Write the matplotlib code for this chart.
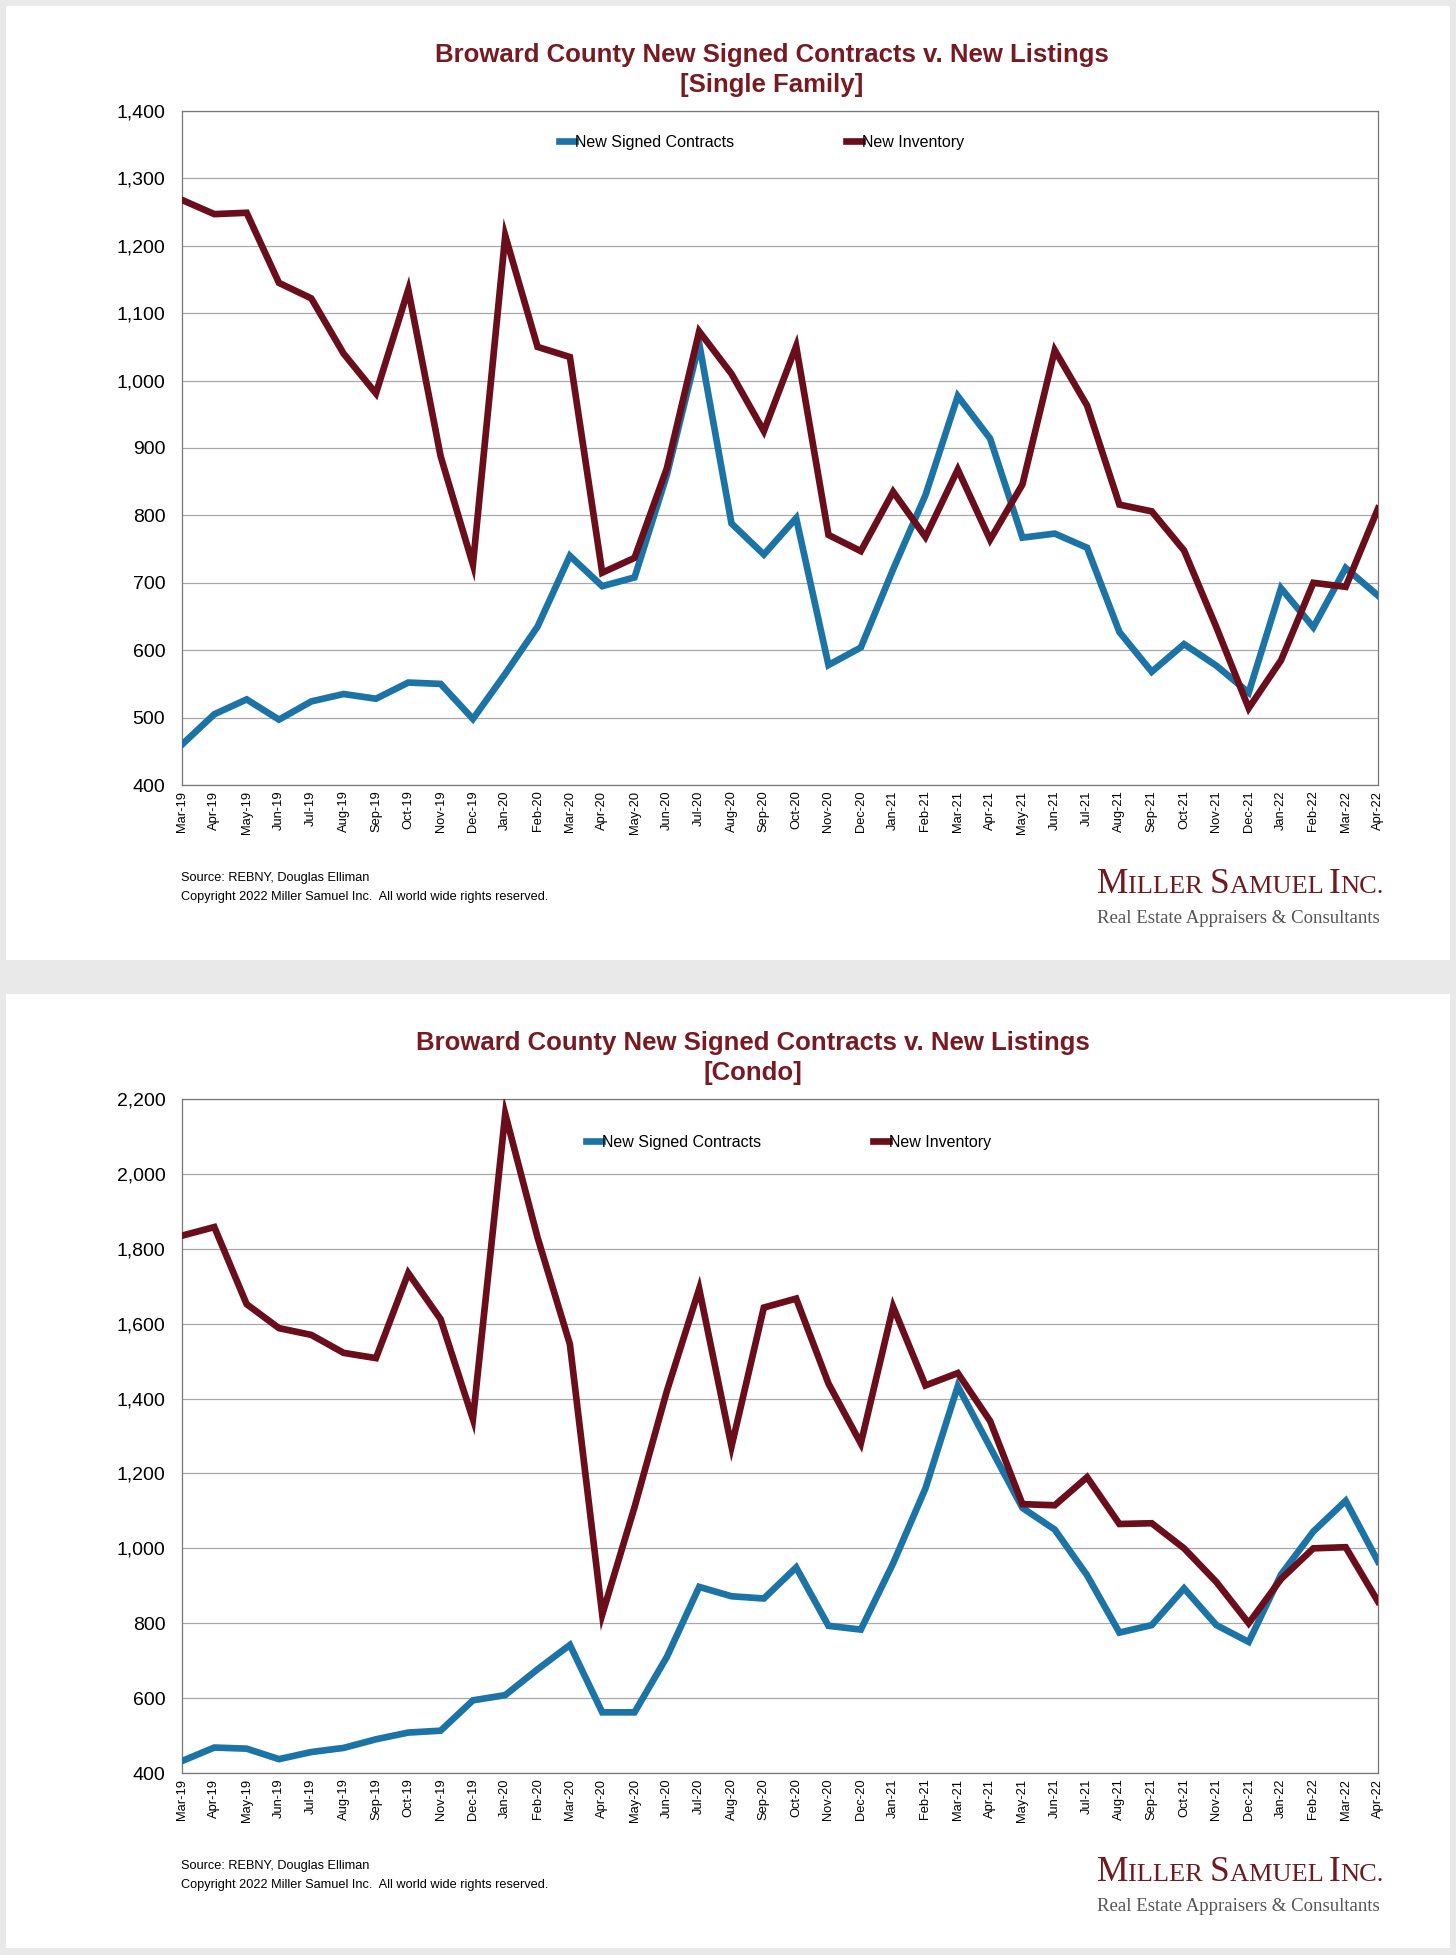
import matplotlib
matplotlib.use("Agg")
import matplotlib.pyplot as plt
from matplotlib.patches import Rectangle
from matplotlib.ticker import FuncFormatter

plt.rcParams['font.family'] = ['Liberation Sans', 'DejaVu Sans']

months = ['Mar-19', 'Apr-19', 'May-19', 'Jun-19', 'Jul-19', 'Aug-19', 'Sep-19', 'Oct-19',
          'Nov-19', 'Dec-19', 'Jan-20', 'Feb-20', 'Mar-20', 'Apr-20', 'May-20', 'Jun-20',
          'Jul-20', 'Aug-20', 'Sep-20', 'Oct-20', 'Nov-20', 'Dec-20', 'Jan-21', 'Feb-21',
          'Mar-21', 'Apr-21', 'May-21', 'Jun-21', 'Jul-21', 'Aug-21', 'Sep-21', 'Oct-21',
          'Nov-21', 'Dec-21', 'Jan-22', 'Feb-22', 'Mar-22', 'Apr-22']

sf_contracts = [460, 505, 527, 497, 524, 535, 528, 552, 550, 498, 565, 635, 740, 695, 708, 860,
                1055, 788, 742, 796, 578, 604, 720, 830, 977, 914, 767, 773, 752, 627, 568, 609,
                577, 537, 692, 634, 722, 681]
sf_inventory = [1268, 1247, 1249, 1145, 1122, 1040, 981, 1135, 888, 727, 1215, 1050, 1035, 715, 737, 870,
                1073, 1010, 925, 1051, 771, 747, 835, 768, 868, 764, 846, 1045, 963, 816, 806, 748,
                634, 514, 585, 700, 694, 810]

condo_contracts = [432, 468, 465, 437, 456, 467, 490, 508, 513, 594, 608, 677, 742, 562, 562, 710,
                   897, 872, 866, 949, 793, 783, 960, 1160, 1433, 1270, 1108, 1050, 928, 775, 795, 893,
                   795, 750, 930, 1045, 1127, 965]
condo_inventory = [1835, 1858, 1652, 1588, 1570, 1522, 1508, 1735, 1612, 1345, 2160, 1830, 1545, 823, 1110, 1420,
                   1693, 1272, 1643, 1667, 1440, 1280, 1645, 1435, 1468, 1340, 1118, 1115, 1190, 1065, 1067, 1000,
                   910, 800, 918, 1000, 1003, 858]

BLUE = '#1c74a6'
RED = '#6a0e1c'
TITLE = '#781a22'
LOGO = '#6e1a1e'

W, H = 1456, 1955
fig = plt.figure(figsize=(W / 100, H / 100), dpi=100)
fig.patch.set_facecolor('#e9e9e9')


def px(x, y):
    return x / W, 1 - y / H


def panel(top, title2, contracts, inventory, ylim, ystep, leg_y, leg_x, title_x):
    # white card
    x0, y0 = px(6, top + 954)
    fig.patches.append(Rectangle((x0, y0), 1444 / W, 954 / H, transform=fig.transFigure,
                                 facecolor='white', edgecolor='none', zorder=-1))
    l, b = px(182, top + 779)
    ax = fig.add_axes([l, b, 1196 / W, 674 / H])
    x = list(range(len(months)))
    ax.plot(x, contracts, color=BLUE, lw=4.8, solid_joinstyle='miter', label='New Signed Contracts', zorder=3)
    ax.plot(x, inventory, color=RED, lw=4.8, solid_joinstyle='miter', label='New Inventory', zorder=3)
    ax.set_xlim(0, len(months) - 1)
    ax.set_ylim(*ylim)
    ax.set_yticks(range(ylim[0], ylim[1] + 1, ystep))
    ax.yaxis.set_major_formatter(FuncFormatter(lambda v, p: f'{int(v):,}'))
    ax.set_xticks(x)
    ax.set_xticklabels(months, rotation=90, fontsize=9.3)
    ax.tick_params(axis='y', labelsize=14, length=0, pad=12)
    ax.tick_params(axis='x', length=0, pad=4)
    ax.grid(axis='y', color='#a8a8a8', lw=0.9)
    ax.set_axisbelow(True)
    for s in ax.spines.values():
        s.set_color('#777777')
        s.set_linewidth(0.9)
    lx, ly = px(leg_x, leg_y)
    ax.legend(loc='center left', bbox_to_anchor=(lx, ly), bbox_transform=fig.transFigure,
              ncol=2, frameon=False, fontsize=11.5, handlelength=1.0, handletextpad=0.0,
              columnspacing=7.0)
    tx, ty = px(title_x, top + 49)
    fig.text(tx, ty, 'Broward County New Signed Contracts v. New Listings', ha='center', va='center',
             fontsize=18.5, fontweight='bold', color=TITLE)
    tx, ty = px(title_x, top + 79)
    fig.text(tx, ty, title2, ha='center', va='center', fontsize=18.5, fontweight='bold', color=TITLE)
    sx, sy = px(181, top + 872)
    fig.text(sx, sy, 'Source: REBNY, Douglas Elliman', fontsize=9.2, va='center')
    sx, sy = px(181, top + 891)
    fig.text(sx, sy, 'Copyright 2022 Miller Samuel Inc.  All world wide rights reserved.', fontsize=9.2,
             va='center')
    # logo
    pieces = [('M', 25.5), ('ILLER ', 19), ('S', 25.5), ('AMUEL ', 19), ('I', 25.5), ('NC.', 19)]
    fig.canvas.draw()
    r = fig.canvas.get_renderer()
    cx = 1097
    for txt, fs in pieces:
        t = fig.text(*px(cx, top + 887), txt, fontsize=fs, family='Liberation Serif',
                     color=LOGO, va='baseline')
        cx += t.get_window_extent(r).width
    lx2, ly2 = px(1097, top + 917)
    fig.text(lx2, ly2, 'Real Estate Appraisers & Consultants', fontsize=13.5, family='Liberation Serif',
             color='#555555', va='baseline')
    return ax


panel(6, '[Single Family]', sf_contracts, sf_inventory, (400, 1400), 100, 142, 545, 772)
panel(994, '[Condo]', condo_contracts, condo_inventory, (400, 2200), 200, 1142, 572, 753)

fig.savefig('out.png', dpi=100, facecolor=fig.get_facecolor())
